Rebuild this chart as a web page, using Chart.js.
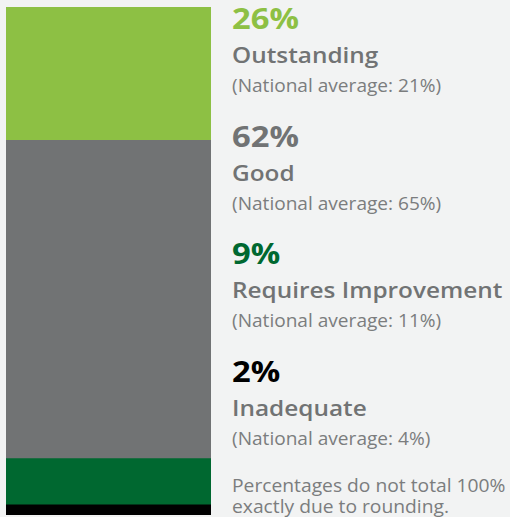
<!DOCTYPE html>
<html>
<head>
<meta charset="utf-8">
<script src="https://cdn.jsdelivr.net/npm/chart.js@4"></script>
<style>
  html, body { margin: 0; padding: 0; background: #f2f3f3; }
  #wrap { position: relative; width: 510px; height: 517px; overflow: hidden; font-family: "Open Sans", sans-serif; }
  #barBox { position: absolute; left: 0; top: 0; width: 211px; height: 517px; }
  .t { position: absolute; left: 232px; white-space: nowrap; line-height: 1; transform-origin: 0 0; }
  .pct { font-size: 28px; font-weight: 700; transform: scaleX(1.17); }
  .lbl { font-size: 21px; font-weight: 600; color: #717374; transform: scaleX(1.16); }
  .nat { font-size: 17.5px; font-weight: 400; color: #7b7d7e; transform: scaleX(1.09); }
  .note { font-size: 17.5px; color: #7b7d7e; transform: scaleX(1.10); }
</style>
</head>
<body>
<div id="wrap">
  <div id="barBox"><canvas id="bar"></canvas></div>
</div>
<script>
// --- Data (top of bar to bottom) ---
const categories = ['Outstanding', 'Good', 'Requires Improvement', 'Inadequate'];
const values = [26, 62, 9, 2];
const nationalAvg = [21, 65, 11, 4];
const colors = ['#8dc044', '#717374', '#006830', '#000000'];
const note = ['Percentages do not total 100%', 'exactly due to rounding.'];

const total = values.reduce((a, b) => a + b, 0);

// stacked bottom-up, so reverse
const datasets = categories.map((c, i) => ({
    label: c,
    data: [values[i]],
    backgroundColor: colors[i],
    borderWidth: 0,
    barPercentage: 1,
    categoryPercentage: 1
})).reverse();

new Chart(document.getElementById('bar'), {
    type: 'bar',
    data: { labels: ['Ratings'], datasets },
    options: {
        responsive: true,
        maintainAspectRatio: false,
        animation: false,
        layout: { padding: { left: 6, right: 0, top: 7, bottom: 2 } },
        scales: {
            x: { stacked: true, display: false },
            y: { stacked: true, display: false, min: 0, max: total }
        },
        plugins: { legend: { display: false }, tooltip: { enabled: false } }
    }
});

// text blocks on the right
const wrap = document.getElementById('wrap');
const addText = (cls, txt, baseline, color) => {
    const d = document.createElement('div');
    d.className = 't ' + cls;
    d.textContent = txt;
    if (color) d.style.color = color;
    wrap.appendChild(d);
    // place by baseline
    const probe = document.createElement('span');
    probe.style.display = 'inline-block';
    probe.style.height = '0';
    d.appendChild(probe);
    const off = probe.offsetTop;
    d.style.top = (baseline - off) + 'px';
};

const blockTop = [29, 147, 264, 382];
categories.forEach((c, i) => {
    const b = blockTop[i];
    addText('pct', values[i] + '%', b, colors[i]);
    addText('lbl', c, b + 34);
    addText('nat', '(National average: ' + nationalAvg[i] + '%)', b + 63);
});
addText('note', note[0], 492);
addText('note', note[1], 513);
</script>
</body>
</html>
